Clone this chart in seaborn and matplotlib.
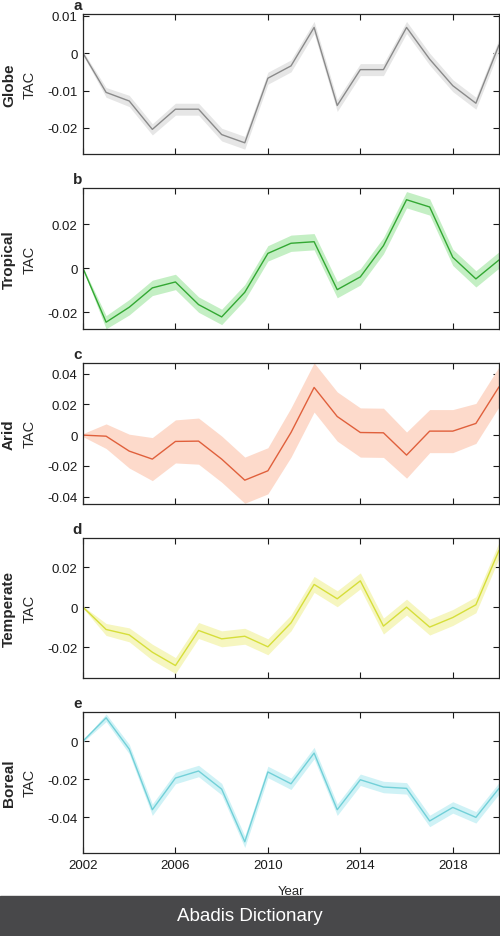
import numpy as np
import pandas as pd
import seaborn as sns
import matplotlib.pyplot as plt
from matplotlib.patches import Rectangle

years = list(range(2002, 2021))

globe = [0, -0.0105, -0.0128, -0.0204, -0.015, -0.015, -0.0218, -0.024, -0.0067, -0.0034,
         0.0069, -0.014, -0.0044, -0.0044, 0.0069, -0.0016, -0.0087, -0.0134, 0.0022]
tropical = [0, -0.0245, -0.0177, -0.0089, -0.0062, -0.0165, -0.0221, -0.0109, 0.0068, 0.0114,
            0.0121, -0.0097, -0.0039, 0.0103, 0.0312, 0.0279, 0.005, -0.0048, 0.0038]
arid = [0, -0.0007, -0.0104, -0.0156, -0.0041, -0.0039, -0.0156, -0.0293, -0.0232, 0.0017,
        0.031, 0.0121, 0.0017, 0.0015, -0.013, 0.0026, 0.0026, 0.0076, 0.0314]
temperate = [0, -0.0112, -0.0139, -0.0226, -0.0293, -0.0117, -0.0159, -0.0146, -0.0199, -0.0079,
             0.0114, 0.0042, 0.0132, -0.0095, 0.0, -0.01, -0.0052, 0.0012, 0.0285]
boreal = [0, 0.0122, -0.0042, -0.036, -0.0194, -0.0157, -0.0252, -0.0528, -0.0162, -0.0224,
          -0.0063, -0.036, -0.0203, -0.0241, -0.0248, -0.0419, -0.0348, -0.04, -0.0248]

# half width of the shaded band
globe_err = [0.0005, 0.0013, 0.0015, 0.0015, 0.0016, 0.0016, 0.0017, 0.0017, 0.0016, 0.0016,
             0.0016, 0.0016, 0.0016, 0.0016, 0.0016, 0.0016, 0.0016, 0.0016, 0.0016]
tropical_err = [0.0005, 0.003, 0.0035, 0.0035, 0.0035, 0.0035, 0.0035, 0.0035, 0.0035, 0.0037,
                0.0037, 0.0037, 0.0037, 0.0037, 0.0037, 0.0037, 0.0037, 0.0037, 0.0037]
arid_err = [0.001, 0.008, 0.011, 0.014, 0.014, 0.015, 0.015, 0.015, 0.015, 0.016,
            0.016, 0.016, 0.016, 0.016, 0.015, 0.014, 0.014, 0.013, 0.013]
temperate_err = [0.0005, 0.003, 0.0035, 0.004, 0.004, 0.004, 0.004, 0.004, 0.004, 0.004,
                 0.004, 0.004, 0.004, 0.004, 0.004, 0.004, 0.004, 0.004, 0.004]
boreal_err = [0.0005, 0.002, 0.0025, 0.003, 0.003, 0.003, 0.003, 0.003, 0.003, 0.003,
              0.003, 0.003, 0.003, 0.003, 0.003, 0.003, 0.003, 0.003, 0.003]

names = ['Globe', 'Tropical', 'Arid', 'Temperate', 'Boreal']
letters = ['a', 'b', 'c', 'd', 'e']
series = [globe, tropical, arid, temperate, boreal]
errs = [globe_err, tropical_err, arid_err, temperate_err, boreal_err]
line_cols = ['#8a8a8a', '#33a833', '#e0603c', '#d6de3a', '#72d0d8']
band_cols = ['#e6e6e6', '#c4efc4', '#fddacb', '#f6f6c0', '#cff2f6']
ylims = [(-0.027, 0.0105), (-0.0276, 0.0364), (-0.0446, 0.0469), (-0.0354, 0.0347), (-0.0587, 0.0154)]
yticks = [[-0.02, -0.01, 0, 0.01], [-0.02, 0, 0.02], [-0.04, -0.02, 0, 0.02, 0.04],
          [-0.02, 0, 0.02], [-0.04, -0.02, 0]]
# axes top/bottom in pixels
tops = [15, 189.3, 364, 539, 712.7]
bots = [155, 330, 504.7, 678.7, 854]

sns.set_style('ticks')
plt.rcParams['font.family'] = ['Liberation Sans', 'DejaVu Sans']

fig = plt.figure(figsize=(5, 9.37), dpi=100)
H = 937.0

for i in range(5):
    ax = fig.add_axes([83 / 500, 1 - bots[i] / H, 416 / 500, (bots[i] - tops[i]) / H])
    df = pd.DataFrame({'year': years, 'tac': series[i]})
    lo = np.array(series[i]) - np.array(errs[i])
    hi = np.array(series[i]) + np.array(errs[i])
    ax.fill_between(df['year'], lo, hi, color=band_cols[i], lw=0)
    sns.lineplot(data=df, x='year', y='tac', ax=ax, color=line_cols[i], lw=1.0)
    ax.set_xlim(2002, 2020)
    ax.set_ylim(*ylims[i])
    ax.set_xticks([2002, 2006, 2010, 2014, 2018])
    ax.set_yticks(yticks[i])
    ax.set_yticklabels(['0' if v == 0 else ('%g' % v) for v in yticks[i]])
    ax.tick_params(direction='in', length=4, width=0.8, top=True, right=True,
                   labelsize=9.5, colors='#1a1a1a', pad=4)
    for s in ax.spines.values():
        s.set_linewidth(0.9)
        s.set_color('#262626')
    ax.set_xlabel('')
    ax.set_ylabel('')
    if i < 4:
        ax.set_xticklabels([])
    ax.text(-0.002, 1.015, letters[i], transform=ax.transAxes, fontsize=11,
            fontweight='bold', ha='right', va='bottom')
    ymid = 1 - (tops[i] + bots[i]) / 2 / H
    fig.text(9 / 500, ymid, names[i], rotation=90, fontsize=11, fontweight='bold',
             ha='center', va='center')
    fig.text(30 / 500, ymid, 'TAC', rotation=90, fontsize=10.5, ha='center', va='center')

fig.text(291 / 500, 1 - 892 / H, 'Year', fontsize=9.5, ha='center', va='center')

# banner at the bottom
fig.patches.append(Rectangle((0, 0), 1, 40 / H, transform=fig.transFigure,
                             color='#48484a', zorder=5))
fig.text(0.5, 20 / H, 'Abadis Dictionary', color='white', fontsize=13.5,
         ha='center', va='center', zorder=6)

fig.savefig('out.png', dpi=100)
